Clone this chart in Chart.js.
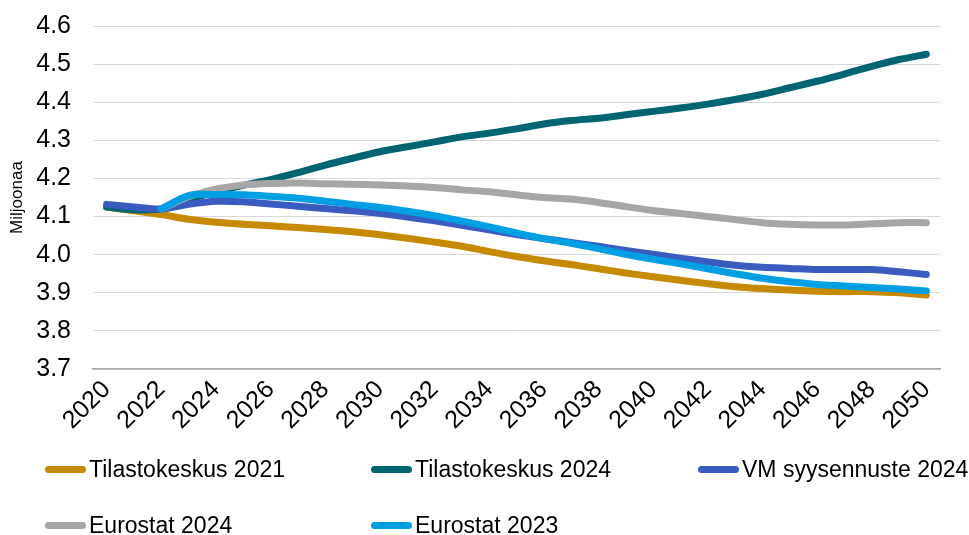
<!DOCTYPE html>
<html>
<head>
<meta charset="utf-8">
<script src="https://cdn.jsdelivr.net/npm/chart.js@4"></script>
<style>
    body { margin: 0; background: #fff; }
    #wrap { position: relative; width: 969px; height: 535px; }
    #legend { position: absolute; left: 0; top: 0; width: 969px; height: 535px; pointer-events: none;
              font-family: "Liberation Sans", Arial, sans-serif; font-size: 23px; color: #000; }
    .item { position: absolute; display: flex; align-items: center; white-space: nowrap; }
    .swatch { width: 41px; height: 7px; border-radius: 4px; margin-right: 3px; }
</style>
</head>
<body>
<div id="wrap">
    <canvas id="chart" width="969" height="535"></canvas>
    <div id="legend"></div>
</div>
<script>
// Vuodet (x-akseli)
const years = [];
for (let y = 2020; y <= 2050; y++) years.push(String(y));

// Y-akselin arvot
const yTicks = [3.7, 3.8, 3.9, 4.0, 4.1, 4.2, 4.3, 4.4, 4.5, 4.6];

// Sarjat (miljoonaa)
const tilastokeskus2021 = [4.125, 4.115, 4.105, 4.093, 4.085, 4.080, 4.076, 4.071, 4.066, 4.060,
    4.052, 4.043, 4.033, 4.022, 4.008, 3.995, 3.984, 3.974, 3.963, 3.952,
    3.942, 3.933, 3.924, 3.916, 3.911, 3.907, 3.904, 3.903, 3.903, 3.900, 3.894];
const tilastokeskus2024 = [4.125, 4.118, 4.120, 4.145, 4.165, 4.182, 4.197, 4.215, 4.235, 4.253,
    4.270, 4.283, 4.296, 4.309, 4.319, 4.330, 4.343, 4.352, 4.358, 4.367,
    4.376, 4.385, 4.395, 4.407, 4.421, 4.438, 4.455, 4.474, 4.494, 4.512, 4.526];
const vmSyysennuste2024 = [4.132, 4.125, 4.120, 4.132, 4.140, 4.139, 4.133, 4.127, 4.121, 4.115,
    4.108, 4.099, 4.089, 4.077, 4.065, 4.053, 4.042, 4.032, 4.022, 4.011,
    4.001, 3.991, 3.981, 3.972, 3.967, 3.964, 3.961, 3.961, 3.961, 3.955, 3.948];
const eurostat2024 = [null, null, 4.120, 4.152, 4.172, 4.183, 4.187, 4.188, 4.186, 4.185,
    4.183, 4.180, 4.176, 4.170, 4.165, 4.157, 4.150, 4.146, 4.137, 4.126,
    4.116, 4.108, 4.100, 4.092, 4.084, 4.080, 4.078, 4.078, 4.081, 4.084, 4.084];
const eurostat2023 = [null, null, 4.120, 4.155, 4.158, 4.157, 4.153, 4.148, 4.140, 4.132,
    4.124, 4.114, 4.102, 4.088, 4.073, 4.057, 4.042, 4.030, 4.016, 4.001,
    3.988, 3.976, 3.963, 3.950, 3.938, 3.929, 3.922, 3.918, 3.914, 3.910, 3.905];

const seriesNames = ['Tilastokeskus 2021', 'Tilastokeskus 2024', 'VM syysennuste 2024', 'Eurostat 2024', 'Eurostat 2023'];
const seriesData = [tilastokeskus2021, tilastokeskus2024, vmSyysennuste2024, eurostat2024, eurostat2023];
const seriesColors = ['#C68A00', '#006570', '#3A5BBF', '#A6A6A6', '#009FE3'];

const font = "'Liberation Sans', Arial, sans-serif";

// Excel piirtää myöhemmän sarjan päälle
const datasets = seriesData.map((d, i) => ({
    label: seriesNames[i],
    data: d,
    borderColor: seriesColors[i],
    backgroundColor: seriesColors[i],
    borderWidth: 7,
    borderCapStyle: 'round',
    borderJoinStyle: 'round',
    pointRadius: 0,
    tension: 0.3,
    fill: false,
    order: seriesData.length - i
}));

new Chart(document.getElementById('chart'), {
    type: 'line',
    data: { labels: years, datasets: datasets },
    options: {
        responsive: false,
        animation: false,
        layout: { padding: { top: 26, right: 29, left: 0, bottom: 0 } },
        plugins: {
            legend: { display: false },
            tooltip: { enabled: false }
        },
        scales: {
            x: {
                offset: true,
                grid: { display: false, drawTicks: false },
                border: { display: true, color: '#A6A6A6', width: 1.5 },
                ticks: {
                    autoSkip: false,
                    maxRotation: 45,
                    minRotation: 45,
                    padding: 6,
                    color: '#000',
                    font: { family: font, size: 25 },
                    callback: function(value, index) {
                        return index % 2 === 0 ? years[index] : '';
                    }
                },
                afterFit: function(scale) {
                    scale.height = 166;
                    scale.paddingLeft = 0;
                    scale.paddingRight = 0;
                }
            },
            y: {
                min: yTicks[0],
                max: yTicks[yTicks.length - 1],
                afterBuildTicks: function(scale) {
                    scale.ticks = yTicks.map(v => ({ value: v }));
                },
                grid: { color: '#D9D9D9', lineWidth: 1, drawTicks: false },
                border: { display: false },
                ticks: {
                    padding: 22,
                    color: '#000',
                    font: { family: font, size: 25 },
                    callback: function(value) { return value.toFixed(1); }
                },
                title: {
                    display: true,
                    text: 'Miljoonaa',
                    color: '#000',
                    font: { family: font, size: 17 },
                    padding: { top: 7, bottom: 0 }
                },
                afterFit: function(scale) {
                    scale.width = 93;
                    scale.paddingTop = 0;
                    scale.paddingBottom = 0;
                }
            }
        }
    }
});

// Selite kolmessa sarakkeessa
const legendPos = [[45, 469], [371, 469], [698, 469], [45, 525], [371, 525]];
const legendEl = document.getElementById('legend');
seriesNames.forEach((name, i) => {
    const item = document.createElement('div');
    item.className = 'item';
    item.style.left = legendPos[i][0] + 'px';
    item.style.top = (legendPos[i][1] - 14) + 'px';
    item.style.height = '28px';
    item.innerHTML = '<span class="swatch" style="background:' + seriesColors[i] + '"></span><span>' + name + '</span>';
    legendEl.appendChild(item);
});
</script>
</body>
</html>
